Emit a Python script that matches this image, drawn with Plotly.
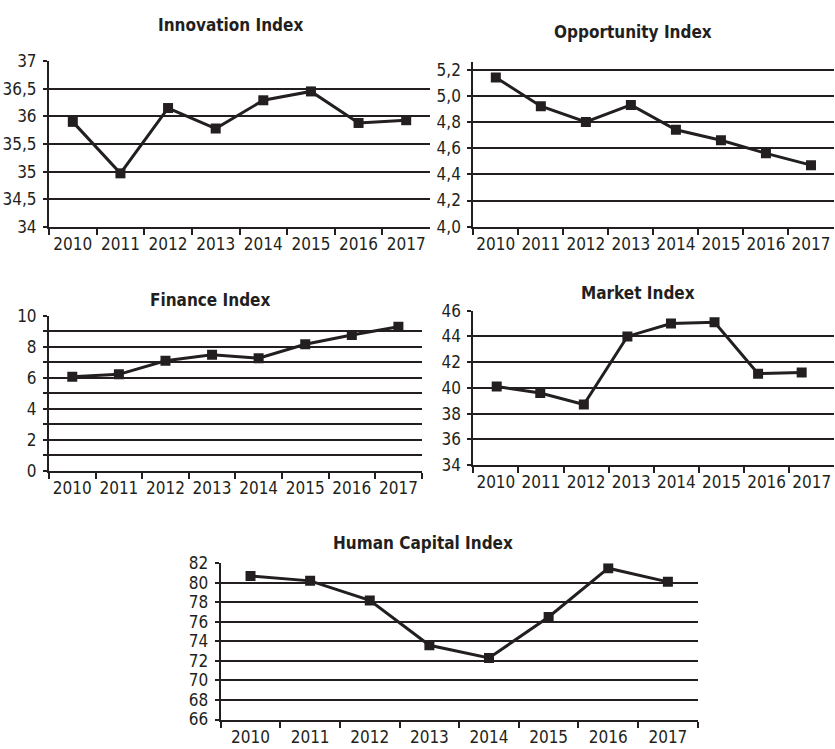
import plotly.graph_objects as go

years = ["2010", "2011", "2012", "2013", "2014", "2015", "2016", "2017"]
year_nums = [2010, 2011, 2012, 2013, 2014, 2015, 2016, 2017]

innovation = [35.9, 34.97, 36.15, 35.78, 36.29, 36.45, 35.88, 35.93]
opportunity = [5.14, 4.92, 4.80, 4.93, 4.74, 4.66, 4.56, 4.47]
finance = [6.08, 6.23, 7.11, 7.50, 7.27, 8.17, 8.77, 9.31]
market = [40.1, 39.6, 38.7, 44.0, 45.0, 45.1, 41.1, 41.2]
human_capital = [80.7, 80.2, 78.2, 73.6, 72.3, 76.5, 81.5, 80.1]

titles = ["Innovation Index", "Opportunity Index", "Finance Index",
          "Market Index", "Human Capital Index"]

W, H = 835, 749
INK = "#231f20"
FONT = "DejaVu Sans Condensed, Roboto, sans-serif"

def px_x(a, b):
    return [a / W, b / W]

def px_y(top, bottom):
    return [1 - bottom / H, 1 - top / H]

fig = go.Figure()

line_style = dict(color=INK, width=3)
marker_style = dict(symbol="square", size=10, color=INK)

fig.add_trace(go.Scatter(x=years, y=innovation, xaxis="x", yaxis="y",
                         mode="lines+markers", line=line_style, marker=marker_style))
fig.add_trace(go.Scatter(x=years, y=opportunity, xaxis="x2", yaxis="y2",
                         mode="lines+markers", line=line_style, marker=marker_style))
fig.add_trace(go.Scatter(x=years, y=finance, xaxis="x3", yaxis="y3",
                         mode="lines+markers", line=line_style, marker=marker_style))
# empty trace so the category axes of the market panel are drawn
fig.add_trace(go.Scatter(x=years, y=[None] * len(years), xaxis="x4", yaxis="y4",
                         mode="lines", hoverinfo="skip"))
fig.add_trace(go.Scatter(x=year_nums, y=market, xaxis="x6", yaxis="y4",
                         mode="lines+markers", line=line_style, marker=marker_style))
fig.add_trace(go.Scatter(x=years, y=human_capital, xaxis="x5", yaxis="y5",
                         mode="lines+markers", line=line_style, marker=marker_style))

tickfont = dict(family=FONT, size=17, color=INK)

def xaxis(domain, anchor):
    return dict(domain=domain, anchor=anchor, type="category",
                categoryorder="array", categoryarray=years,
                range=[-0.5, 7.5], tickson="boundaries",
                showline=True, linecolor=INK, linewidth=2,
                ticks="outside", ticklen=6, tickwidth=2, tickcolor=INK,
                showgrid=False, tickfont=tickfont, ticklabelstandoff=1,
                tickangle=0, automargin=False, fixedrange=True)

def yaxis(domain, anchor, rng, dtick, fmt="", minor=None):
    d = dict(domain=domain, anchor=anchor, range=rng, dtick=dtick, tick0=0,
             showline=True, linecolor=INK, linewidth=2,
             ticks="outside", ticklen=4, tickwidth=2, tickcolor=INK,
             showgrid=True, gridcolor=INK, gridwidth=2,
             zeroline=False, tickfont=tickfont, tickformat=fmt,
             ticklabelstandoff=3, automargin=False, fixedrange=True)
    if minor:
        d["minor"] = minor
    return d

fig.update_layout(
    width=W, height=H,
    margin=dict(l=0, r=0, t=0, b=0, autoexpand=False),
    paper_bgcolor="white", plot_bgcolor="white",
    showlegend=False,
    separators=", ",
    font=dict(family=FONT, color=INK),
    xaxis=xaxis(px_x(49, 430), "y"),
    yaxis=yaxis(px_y(61, 227), "x", [34, 37], 0.5),
    xaxis2=xaxis(px_x(473.3, 833.5), "y2"),
    yaxis2=yaxis(px_y(61.7, 226.7), "x2", [4.0, 5.26], 0.2, ".1f"),
    xaxis3=xaxis(px_x(49, 421.7), "y3"),
    yaxis3=yaxis(px_y(316, 470.7), "x3", [0, 10], 2,
                 minor=dict(dtick=1, showgrid=True, gridcolor=INK, gridwidth=2,
                            ticks="outside", ticklen=4, tickwidth=2, tickcolor=INK)),
    xaxis4=xaxis(px_x(473.3, 834.3), "y4"),
    yaxis4=yaxis(px_y(310.7, 465), "x4", [34, 46], 2),
    xaxis6=dict(domain=px_x(473.3, 834.3), anchor="y4", overlaying="x4",
                range=[2009.463, 2017.749], visible=False, automargin=False,
                fixedrange=True),
    xaxis5=xaxis(px_x(220.7, 697.7), "y5"),
    yaxis5=yaxis(px_y(563.3, 719.5), "x5", [66, 82], 2),
)

title_pos = [(231, 25), (633, 32), (210, 300), (638, 293), (423, 543)]
for t, (cx, cy) in zip(titles, title_pos):
    fig.add_annotation(text="<b>" + t + "</b>", xref="paper", yref="paper",
                       x=cx / W, y=1 - cy / H, xanchor="center", yanchor="middle",
                       showarrow=False,
                       font=dict(family=FONT, size=17, color=INK))

fig.write_html("out.html",
               config={"displayModeBar": False},
               post_script="document.body.style.margin='0';"
                           "document.body.style.overflow='hidden';")
